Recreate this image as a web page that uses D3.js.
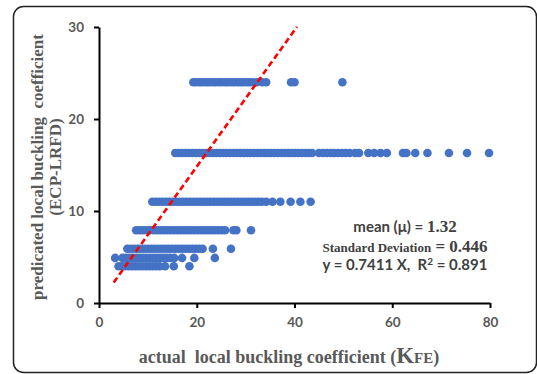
<!DOCTYPE html>
<html>
<head>
<meta charset="utf-8">
<script src="https://cdn.jsdelivr.net/npm/d3@7"></script>
<style>
  html, body { margin: 0; padding: 0; background: #fff; }
  svg { display: block; }
  text { white-space: pre; }
  .tick text { font-family: Lato, "Open Sans", sans-serif; font-weight: bold; font-size: 13.5px; fill: #595959; }
  .axis path, .axis line { stroke: #000; stroke-width: 2; }
  .title { font-family: "Liberation Serif", "Times New Roman", serif; font-weight: bold; fill: #595959; }
  .note { fill: #404040; font-weight: bold; }
</style>
</head>
<body>
<svg id="chart" width="537" height="374"></svg>
<script>
// predicted levels (y) and the actual values (x) read at each level
const levels = [24.0, 16.3, 11.0, 7.9, 5.9, 4.9, 4.0];
const row24 = [19.3, 19.9, 20.6, 21.2, 21.9, 22.5, 23.2, 23.8, 24.5, 25.1, 25.8, 26.4, 27.1, 27.7, 28.4, 29.0, 29.6, 30.3, 30.9, 31.5, 32.3, 33.4, 34.2, 39.3, 40.0, 49.8];
const row16 = [15.6, 16.3, 17.0, 17.7, 18.4, 19.1, 19.8, 20.5, 21.2, 21.9, 22.6, 23.3, 24.0, 24.7, 25.4, 26.1, 26.8, 27.5, 28.2, 28.9, 29.6, 30.3, 31.0, 31.7, 32.4, 33.1, 33.8, 34.5, 35.2, 35.9, 36.6, 37.3, 38.0, 38.7, 39.4, 40.1, 40.8, 41.5, 42.2, 42.9, 43.6, 45.0, 45.8, 46.6, 47.4, 48.1, 48.9, 49.7, 50.5, 51.3, 52.4, 53.2, 55.1, 56.3, 57.6, 58.9, 62.2, 62.9, 64.7, 67.2, 71.6, 75.3, 79.8];
const row11 = [10.9, 11.6, 12.3, 13.0, 13.7, 14.4, 15.1, 15.8, 16.5, 17.2, 17.9, 18.6, 19.3, 20.0, 20.7, 21.4, 22.1, 22.8, 23.5, 24.2, 24.9, 25.6, 26.3, 27.0, 27.7, 28.4, 29.1, 29.8, 30.5, 31.2, 31.9, 32.6, 33.3, 34.2, 35.5, 37.1, 39.2, 41.2, 43.3];
const row8 = [7.6, 8.3, 9.0, 9.7, 10.4, 11.1, 11.8, 12.5, 13.2, 13.9, 14.6, 15.3, 16.0, 16.7, 17.4, 18.1, 18.8, 19.5, 20.2, 20.9, 21.6, 22.3, 23.0, 23.7, 24.4, 25.1, 25.8, 27.5, 28.1, 31.1];
const row6 = [5.8, 6.5, 7.2, 7.9, 8.6, 9.3, 10.0, 10.7, 11.4, 12.1, 12.8, 13.5, 14.2, 14.9, 15.6, 16.3, 17.0, 17.7, 18.4, 19.1, 19.8, 20.5, 21.2, 23.3, 27.0];
const row5 = [3.3, 4.8, 5.5, 6.2, 6.9, 7.6, 8.3, 9.0, 9.7, 10.4, 11.1, 11.8, 12.5, 13.2, 13.9, 14.6, 15.4, 17.0, 19.5, 23.7];
const row4 = [4.0, 4.7, 5.4, 6.1, 6.8, 7.5, 8.2, 8.9, 9.6, 10.3, 11.0, 11.7, 12.4, 13.5, 15.3, 18.5];
const rows = [row24, row16, row11, row8, row6, row5, row4];

const xTicks = [0, 20, 40, 60, 80];
const yTicks = [0, 10, 20, 30];
const slope = 0.7411;
const fitRange = [3.0, 40.5];

const svg = d3.select('#chart');

svg.append('rect')
  .attr('x', 13.5).attr('y', 6.5)
  .attr('width', 523).attr('height', 366)
  .attr('rx', 10)
  .attr('fill', '#fff')
  .attr('stroke', '#222')
  .attr('stroke-width', 1.5);

const x = d3.scaleLinear().domain([0, 80]).range([99, 490]);
const y = d3.scaleLinear().domain([0, 30]).range([303, 27]);

const points = [];
rows.forEach((r, i) => r.forEach(v => points.push({ x: v, y: levels[i] })));

svg.append('g')
  .selectAll('circle')
  .data(points)
  .enter()
  .append('circle')
  .attr('cx', d => x(d.x))
  .attr('cy', d => y(d.y))
  .attr('r', 4.3)
  .attr('fill', '#4472C4');

svg.append('line')
  .attr('x1', x(fitRange[0])).attr('y1', y(slope * fitRange[0]))
  .attr('x2', x(fitRange[1])).attr('y2', y(slope * fitRange[1]))
  .attr('stroke', '#FF0000')
  .attr('stroke-width', 2.6)
  .attr('stroke-dasharray', '6,3.5');

svg.append('g')
  .attr('class', 'axis')
  .attr('transform', `translate(0,${y(0)})`)
  .call(d3.axisBottom(x).tickValues(xTicks).tickSize(5).tickSizeOuter(0).tickPadding(9));

svg.append('g')
  .attr('class', 'axis')
  .attr('transform', `translate(${x(0)},0)`)
  .call(d3.axisLeft(y).tickValues(yTicks).tickSize(5).tickSizeOuter(0).tickPadding(10));

// axis titles
const xt = svg.append('text')
  .attr('class', 'title')
  .attr('x', 289).attr('y', 363)
  .attr('text-anchor', 'middle')
  .style('font-size', '18px');
xt.append('tspan').text('actual  local buckling coefficient (');
xt.append('tspan').style('font-size', '23px').text('K');
xt.append('tspan').style('font-size', '15px').text('FE');
xt.append('tspan').text(')');

const yt = svg.append('g').attr('transform', 'translate(0,167) rotate(-90)');
yt.append('text')
  .attr('class', 'title')
  .attr('x', 0).attr('y', 43)
  .attr('text-anchor', 'middle')
  .style('font-size', '17px')
  .text('predicated local buckling  coefficient');
yt.append('text')
  .attr('class', 'title')
  .attr('x', 0).attr('y', 61)
  .attr('text-anchor', 'middle')
  .style('font-size', '17px')
  .text('(ECP-LRFD)');

// annotation
const sans = 'Lato, "Open Sans", sans-serif';
const serif = '"Liberation Serif", "Times New Roman", serif';

const n1 = svg.append('text').attr('class', 'note').attr('x', 405).attr('y', 232).attr('text-anchor', 'middle');
n1.append('tspan').style('font-family', sans).style('font-size', '15px').text('mean (μ) = ');
n1.append('tspan').style('font-family', serif).style('font-size', '17px').text('1.32');

const n2 = svg.append('text').attr('class', 'note').attr('x', 405).attr('y', 252).attr('text-anchor', 'middle');
n2.append('tspan').style('font-family', serif).style('font-size', '13px').text('Standard Deviation');
n2.append('tspan').style('font-family', serif).style('font-size', '17px').text(' = 0.446');

const n3 = svg.append('text').attr('class', 'note').attr('x', 405).attr('y', 270).attr('text-anchor', 'middle')
  .style('font-family', sans).style('font-size', '15px');
n3.append('tspan').text('y = 0.7411 X,  R');
n3.append('tspan').style('font-size', '10px').attr('dy', -5).text('2');
n3.append('tspan').attr('dy', 5).text(' = 0.891');
</script>
</body>
</html>
